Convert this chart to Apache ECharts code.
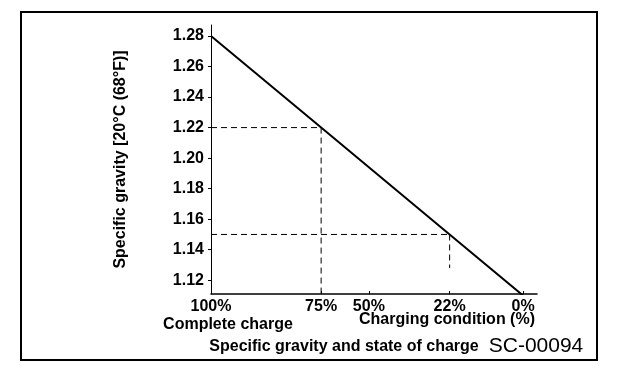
<!DOCTYPE html>
<html><head><meta charset="utf-8">
<script src="https://cdn.jsdelivr.net/npm/echarts@6/dist/echarts.min.js"></script>
<style>html,body{margin:0;padding:0;background:#fff}#c{width:624px;height:376px}</style>
</head><body><div id="c"></div>
<script>
// Charging condition labels and the specific gravity they correspond to
const chargeLabels = ['100%', '75%', '50%', '22%', '0%'];
const chargeGravity = [1.28, 1.22, 1.194, 1.15, 1.11];
// Specific gravity tick labels
const gravityTicks = [1.12, 1.14, 1.16, 1.18, 1.20, 1.22, 1.24, 1.26, 1.28];
// Main line: specific gravity vs state of charge
const lineCharge = [1.28, 1.22, 1.15, 1.11];
const lineGravity = [1.28, 1.22, 1.15, 1.11];
// Reference guides (75% -> 1.22, 22% -> 1.15)
const guideCharge = [1.22, 1.15];
const guideGravity = [1.22, 1.15];
const guideVerticalEnd = [1.111, 1.128];

const yMin = 1.111, yMax = 1.2872, xLeft = 1.28, xRight = 1.1024;
const font = 'Liberation Sans';

const series = [{
  type: 'line', symbol: 'none', silent: true,
  data: lineCharge.map((c, i) => [c, lineGravity[i]]),
  lineStyle: { color: '#000', width: 2 }, z: 5
}];
guideCharge.forEach((c, i) => {
  series.push({
    type: 'line', symbol: 'none', silent: true,
    data: [[xLeft, guideGravity[i]], [c, guideGravity[i]]],
    lineStyle: { color: '#000', width: 1, type: [6, 4] }
  });
  series.push({
    type: 'line', symbol: 'none', silent: true,
    data: [[c, guideGravity[i]], [c, guideVerticalEnd[i]]],
    lineStyle: { color: '#000', width: 1, type: [6, 4] }
  });
});

const chart = echarts.init(document.getElementById('c'));
chart.setOption({
  animation: false,
  backgroundColor: '#fff',
  grid: { left: 211, top: 25, right: 87, bottom: 82 },
  xAxis: {
    type: 'value', inverse: true, min: xRight, max: xLeft,
    splitLine: { show: false },
    axisLine: { lineStyle: { color: '#000', width: 1.5 } },
    axisTick: { show: true, length: 3, inside: true, customValues: chargeGravity, lineStyle: { color: '#000' } },
    axisLabel: {
      customValues: chargeGravity, color: '#000', fontFamily: font, fontWeight: 'bold', fontSize: 16, margin: 5,
      formatter: v => { const i = chargeGravity.findIndex(g => Math.abs(g - v) < 1e-6); return i >= 0 ? chargeLabels[i] : ''; }
    }
  },
  yAxis: {
    type: 'value', min: yMin, max: yMax,
    splitLine: { show: false },
    axisLine: { lineStyle: { color: '#000', width: 1 } },
    axisTick: { show: true, length: 3, customValues: gravityTicks, lineStyle: { color: '#000' } },
    axisLabel: {
      customValues: gravityTicks, color: '#000', fontFamily: font, fontWeight: 'bold', fontSize: 16, margin: 7,
      formatter: v => v.toFixed(2)
    },
    name: 'Specific gravity [20°C (68°F)]', nameLocation: 'middle', nameGap: 82, nameRotate: 90,
    nameTextStyle: { color: '#000', fontFamily: font, fontWeight: 'bold', fontSize: 16 }
  },
  series: series,
  graphic: [
    { type: 'rect', shape: { x: 21, y: 12, width: 576, height: 348 }, style: { fill: 'none', stroke: '#000', lineWidth: 2 }, silent: true },
    { type: 'text', x: 228, y: 325, style: { text: 'Complete charge', fill: '#000', font: 'bold 16px "Liberation Sans"', textAlign: 'center', textVerticalAlign: 'middle' } },
    { type: 'text', x: 447, y: 320, style: { text: 'Charging condition (%)', fill: '#000', font: 'bold 16px "Liberation Sans"', textAlign: 'center', textVerticalAlign: 'middle' } },
    { type: 'text', x: 344, y: 347, style: { text: 'Specific gravity and state of charge', fill: '#000', font: 'bold 16px "Liberation Sans"', textAlign: 'center', textVerticalAlign: 'middle' } },
    { type: 'text', x: 536, y: 346, style: { text: 'SC-00094', fill: '#000', font: '21px "Liberation Sans"', textAlign: 'center', textVerticalAlign: 'middle' } }
  ]
});
</script>
</body></html>
